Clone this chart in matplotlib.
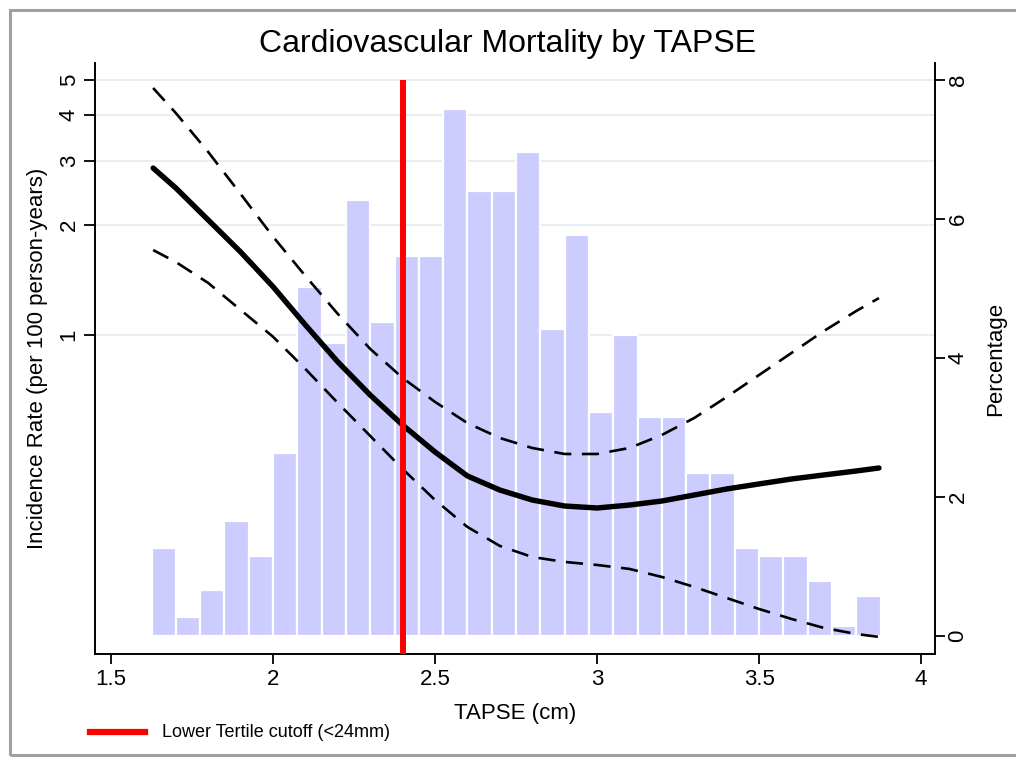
import numpy as np
import matplotlib
matplotlib.use("Agg")
import matplotlib.pyplot as plt
from matplotlib.lines import Line2D
from matplotlib.patches import Rectangle
from matplotlib.transforms import blended_transform_factory

plt.rcParams['font.family'] = ['Liberation Sans', 'DejaVu Sans']

# Histogram of TAPSE (percentage per bin)
bin_start = 1.625
bin_width = 0.075
pct = [1.27, 0.27, 0.66, 1.65, 1.15, 2.63, 5.02, 4.22, 6.27, 4.52,
       5.47, 5.47, 7.58, 6.40, 6.40, 6.96, 4.42, 5.77, 3.22, 4.33,
       3.15, 3.15, 2.35, 2.35, 1.27, 1.15, 1.15, 0.79, 0.14, 0.58]

# Spline fit of incidence rate with 95% CI
tapse = [1.63, 1.7, 1.8, 1.9, 2.0, 2.1, 2.2, 2.3, 2.4, 2.5, 2.6, 2.7,
         2.8, 2.9, 3.0, 3.1, 3.2, 3.3, 3.4, 3.5, 3.6, 3.7, 3.8, 3.87]
rate = [2.863, 2.525, 2.064, 1.687, 1.356, 1.065, 0.844, 0.685, 0.567,
        0.4785, 0.4113, 0.3765, 0.3535, 0.3404, 0.3362, 0.3425, 0.3513,
        0.3649, 0.3790, 0.3912, 0.4036, 0.4140, 0.4245, 0.4326]
rate_hi = [4.741, 4.050, 3.168, 2.431, 1.858, 1.450, 1.142, 0.916, 0.763,
           0.656, 0.574, 0.5226, 0.4907, 0.4725, 0.4725, 0.4907, 0.5326,
           0.5929, 0.6766, 0.7772, 0.8929, 1.0254, 1.1634, 1.262]
rate_lo = [1.708, 1.584, 1.388, 1.171, 0.989, 0.807, 0.6516, 0.5293, 0.4299,
           0.3535, 0.2983, 0.2647, 0.2469, 0.2393, 0.2348, 0.2290, 0.2177,
           0.2044, 0.1907, 0.1779, 0.1671, 0.1579, 0.1520, 0.1492]

cutoff = 2.4
rate_ticks = [1, 2, 3, 4, 5]
pct_ticks = [0, 2, 4, 6, 8]
x_ticks = [1.5, 2, 2.5, 3, 3.5, 4]
x_labels = ['1.5', '2', '2.5', '3', '3.5', '4']

fig = plt.figure(figsize=(10.16, 7.6), dpi=100)
fig.patches.append(Rectangle((0.0098, 0.0066), 1.2, 0.980, transform=fig.transFigure,
                             fill=False, edgecolor='#a0a0a0', linewidth=2.2))

ax_pct = fig.add_axes([0.0935, 0.1395, 0.8268, 0.7776])
ax_log = ax_pct.twinx()
ax_pct.yaxis.tick_right()
ax_pct.yaxis.set_label_position('right')
ax_log.yaxis.tick_left()
ax_log.yaxis.set_label_position('left')

ax_pct.set_xlim(1.4506, 4.043)
ax_pct.set_ylim(-0.259, 8.245)
ax_log.set_yscale('log')
ax_log.set_ylim(0.134, 5.55)

# gridlines from the log axis, drawn behind the bars
trans = blended_transform_factory(ax_pct.transAxes, ax_log.transData)
for v in rate_ticks:
    ax_pct.plot([0, 1], [v, v], transform=trans, color='#e6eef1', lw=1.4, zorder=0.5)

left = bin_start + bin_width * np.arange(len(pct))
ax_pct.bar(left, pct, width=bin_width, align='edge', color='#ccccff',
           edgecolor='white', linewidth=1.6, zorder=1)

ax_log.plot(tapse, rate_hi, color='black', lw=1.9, dashes=(6.5, 4),
            solid_joinstyle='round', dash_joinstyle='round')
ax_log.plot(tapse, rate_lo, color='black', lw=1.9, dashes=(6.5, 4),
            dash_joinstyle='round')
ax_log.plot(tapse, rate, color='black', lw=3.9, solid_capstyle='round',
            solid_joinstyle='round')
ax_log.vlines(cutoff, 0.134, 5, color='red', lw=4.3, zorder=5)

# axes styling
for a in (ax_pct, ax_log):
    a.spines['top'].set_visible(False)
ax_pct.spines['left'].set_visible(False)
ax_log.spines['right'].set_visible(False)
ax_log.spines['bottom'].set_visible(False)
for s in ('bottom', 'right'):
    ax_pct.spines[s].set_linewidth(1.4)
ax_log.spines['left'].set_linewidth(1.4)

ax_pct.set_xticks(x_ticks, x_labels)
ax_pct.tick_params(axis='x', length=7, width=1.3, labelsize=16, pad=4)
ax_pct.set_yticks(pct_ticks, [str(t) for t in pct_ticks])
ax_pct.tick_params(axis='y', length=7, width=1.3, labelsize=16, pad=2,
                   labelrotation=90)
for lab in ax_pct.get_yticklabels():
    lab.set_va('center')

ax_log.set_yticks(rate_ticks, [str(t) for t in rate_ticks])
ax_log.yaxis.set_minor_locator(matplotlib.ticker.NullLocator())
ax_log.tick_params(axis='y', length=8, width=1.3, labelsize=16, pad=3,
                   labelrotation=90)
for lab in ax_log.get_yticklabels():
    lab.set_va('center')

ax_pct.set_xlabel('TAPSE (cm)', fontsize=16, labelpad=9)
ax_pct.set_ylabel('Percentage', fontsize=16, labelpad=12)
ax_log.set_ylabel('Incidence Rate (per 100 person-years)', fontsize=16, labelpad=8)
fig.suptitle('Cardiovascular Mortality by TAPSE', fontsize=23, y=0.962)

# legend
fig.add_artist(Line2D([90 / 1016, 145 / 1016], [0.0368, 0.0368], color='red', lw=4.5,
                      transform=fig.transFigure))
fig.text(162 / 1016, 0.0368, 'Lower Tertile cutoff (<24mm)', fontsize=13,
         va='center', ha='left')

fig.savefig('out.png', dpi=100)
